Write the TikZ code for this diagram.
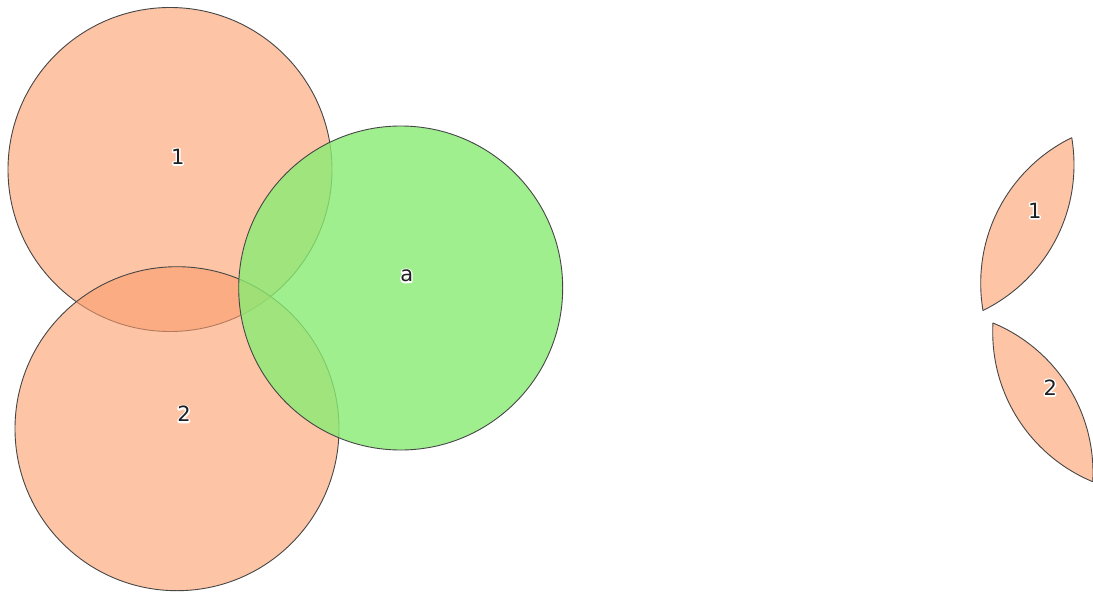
\documentclass[tikz,border=0pt]{standalone}
\usepackage{fontspec}
\setmainfont{DejaVu Sans}
\definecolor{salmonC}{RGB}{252,157,107}
\definecolor{greenC}{RGB}{136,236,115}
\definecolor{edgeC}{RGB}{70,70,70}
% text with a white halo: stroked white copy under the filled text
\newcommand{\halotext}[1]{\rlap{\textcolor{white}{\special{pdf:literal direct 1 1 1 RG 3 w 1 j 1 Tr}#1\special{pdf:literal direct 0 Tr}}}#1}
\begin{document}
\begin{tikzpicture}[x=1pt,y=-1pt,
  disc/.style={draw=edgeC, line width=0.9pt},
  salmondisc/.style={disc, fill=salmonC, fill opacity=0.6},
  greendisc/.style={disc, fill=greenC, fill opacity=0.8},
  lbl/.style={inner sep=0pt, font=\fontsize{21}{25}\selectfont, text=black!88}]
\useasboundingbox (0,0) rectangle (1093,594);
\fill[white] (0,0) rectangle (1093,594);
% circles
\path[salmondisc] (170,169.5) circle[radius=162];
\path[salmondisc] (177,428.7) circle[radius=162];
\path[greendisc] (400.7,288) circle[radius=162];
% labels
\node[lbl] (l1) at (177.7,156.7) {\halotext{1}};
\node[lbl] (l2) at (184,414) {\halotext{2}};
\node[lbl] (la) at (406.7,276) {\halotext{a}};
% lens 1 (circle 1 and a)
\begin{scope}[shift={(742,-4.7)}]
  \begin{scope}
    \clip (170,169.5) circle[radius=162];
    \fill[salmonC, fill opacity=0.6] (400.7,288) circle[radius=162];
    \draw[disc] (400.7,288) circle[radius=162];
  \end{scope}
  \begin{scope}
    \clip (400.7,288) circle[radius=162];
    \draw[disc] (170,169.5) circle[radius=162];
  \end{scope}
\end{scope}
% lens 2 (circle 2 and a)
\begin{scope}[shift={(754,44)}]
  \begin{scope}
    \clip (177,428.7) circle[radius=162];
    \fill[salmonC, fill opacity=0.6] (400.7,288) circle[radius=162];
    \draw[disc] (400.7,288) circle[radius=162];
  \end{scope}
  \begin{scope}
    \clip (400.7,288) circle[radius=162];
    \draw[disc] (177,428.7) circle[radius=162];
  \end{scope}
\end{scope}
\node[lbl] (m1) at (1034.7,210.5) {\halotext{1}};
\node[lbl] (m2) at (1050.3,387.5) {\halotext{2}};
\end{tikzpicture}
\end{document}
